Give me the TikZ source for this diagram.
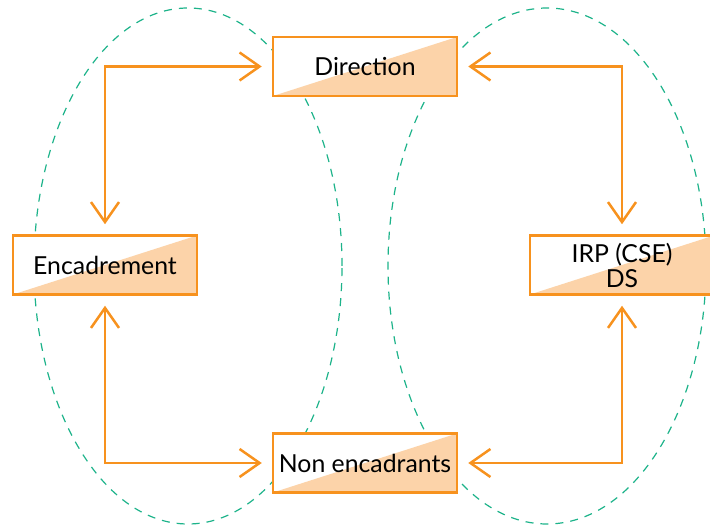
\documentclass[tikz,border=0pt]{standalone}
\usepackage{fontspec}
\setmainfont{Lato}
\usetikzlibrary{calc,arrows.meta}
\definecolor{boxorange}{HTML}{F7921E}
\definecolor{boxpeach}{HTML}{FCD3A9}
\definecolor{ringgreen}{HTML}{1DB38A}

\begin{document}
\begin{tikzpicture}[x=1pt, y=-1pt,
    halfbox/.style={draw=boxorange, fill=white, line width=2.5pt, minimum width=184pt, minimum height=59pt,
      inner sep=0pt, align=center, font=\fontsize{24.8}{25}\selectfont,
      path picture={\fill[boxpeach] (path picture bounding box.south west)
        -- (path picture bounding box.north east) -- (path picture bounding box.south east) -- cycle;}},
    link/.style={draw=boxorange, line width=2.5pt, line join=miter,
      {Straight Barb[length=20pt,width=28pt]}-{Straight Barb[length=20pt,width=28pt]},
      shorten <=10pt, shorten >=10pt},
    ring/.style={draw=ringgreen, line width=1.2pt, dash pattern=on 8pt off 7pt}]

    \useasboundingbox (0,0) rectangle (710,526);
    \clip (0,0) rectangle (710,526);

    %groups
    \draw[ring] (188,266) ellipse [x radius=154pt, y radius=258pt];
    \draw[ring] (547,266) ellipse [x radius=159pt, y radius=258pt];

    %boxes
    \node[halfbox] (dir) at (365,66.5) {Direction};
    \node[halfbox] (enc) at (105,265) {Encadrement};
    \node[halfbox] (irp) at (622,265) {IRP (CSE)\\DS};
    \node[halfbox] (non) at (365,463) {Non encadrants};

    %links
    \draw[link] (enc.north) |- (dir.west);
    \draw[link] (irp.north) |- (dir.east);
    \draw[link] (enc.south) |- (non.west);
    \draw[link] (irp.south) |- (non.east);

\end{tikzpicture}
\end{document}
